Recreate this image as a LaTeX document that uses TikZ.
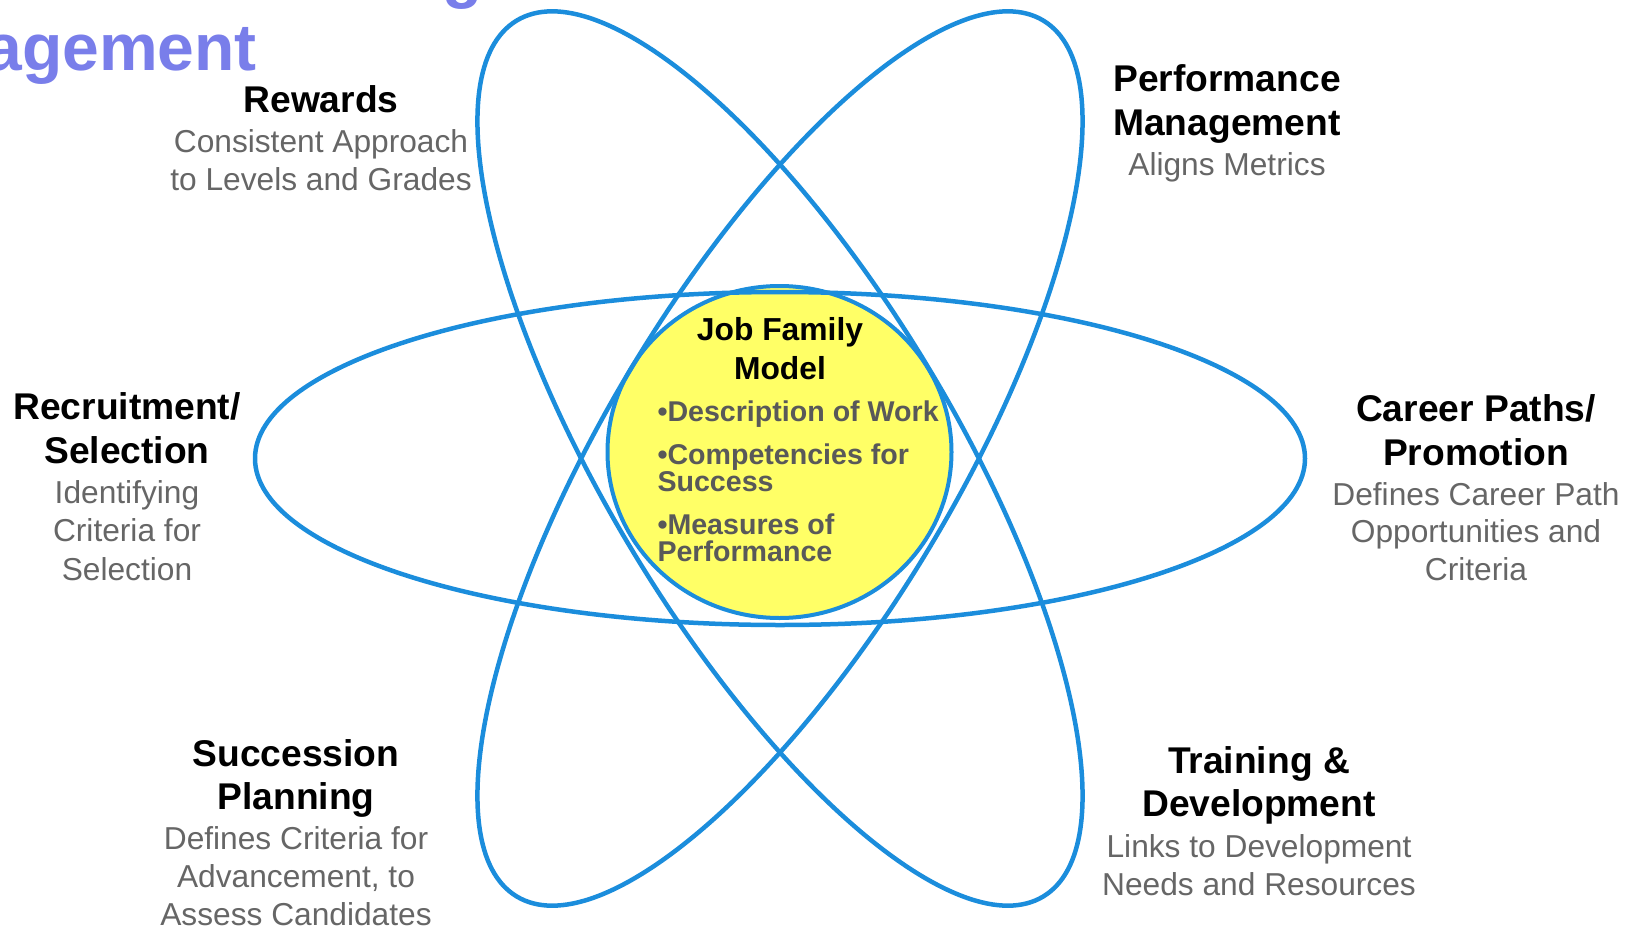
\documentclass[tikz,border=0pt]{standalone}
\usepackage{fontspec}
\setmainfont{Liberation Sans}
\definecolor{orbit}{RGB}{27,141,220}
\definecolor{coreyellow}{RGB}{255,255,102}
\definecolor{descgray}{RGB}{102,102,102}
\definecolor{itemgray}{RGB}{89,89,89}
\definecolor{titleblue}{RGB}{121,126,234}
\begin{document}
\begin{tikzpicture}[x=1pt,y=-1pt,
  orbitline/.style={draw=orbit, line width=4.5pt},
  head/.style={anchor=base, inner sep=0pt, font=\fontsize{37.2}{44}\selectfont\bfseries},
  desc/.style={anchor=base, inner sep=0pt, text=descgray, font=\fontsize{31.7}{38}\selectfont},
  corehead/.style={anchor=base, inner sep=0pt, font=\fontsize{31.8}{36}\selectfont\bfseries},
  coreitem/.style={anchor=base west, inner sep=0pt, text=itemgray, font=\fontsize{28.6}{32}\selectfont\bfseries},
  titletext/.style={inner sep=0pt, text=titleblue, font=\fontsize{66}{76}\selectfont\bfseries}]
\useasboundingbox (0,0) rectangle (1642,929);

% heading fragments
\node[titletext, anchor=base west] (ttl0) at (442,-5) {g};
\node[titletext, anchor=base east] (ttl1) at (257,70.7) {agement};

% centre disc and the three orbits
\coordinate (c) at (780,458.5);
\coordinate (cc) at (779.5,452);
\fill[coreyellow] (cc) ellipse [x radius=172pt, y radius=166pt];
\draw[orbitline] (c) ellipse [x radius=525pt, y radius=166.5pt];
\draw[orbitline, rotate around={121:(c)}] (c) ellipse [x radius=511pt, y radius=174pt];
\draw[orbitline, rotate around={59:(c)}] (c) ellipse [x radius=511pt, y radius=174pt];
\draw[orbitline, line width=4pt] (cc) ellipse [x radius=172pt, y radius=166pt];

% centre text
\node[corehead] (jf1) at (780,340) {Job Family};
\node[corehead] (jf2) at (780,379.3) {Model};
\node[coreitem] (it1) at (657.3,421) {•Description of Work};
\node[coreitem] (it2) at (657.3,464.3) {•Competencies for};
\node[coreitem] (it2b) at (657.3,491.7) {Success};
\node[coreitem] (it3) at (657.3,534.3) {•Measures of};
\node[coreitem] (it3b) at (657.3,561.7) {Performance};

% Rewards
\node[head] (rw) at (321,112.3) {Rewards};
\node[desc] (rw1) at (321,152.3) {Consistent Approach};
\node[desc] (rw2) at (321,190) {to Levels and Grades};

% Performance Management
\node[head] (pm) at (1227,91.7) {Performance};
\node[head] (pm0) at (1227,135) {Management};
\node[desc] (pm1) at (1227,175) {Aligns Metrics};

% Career Paths / Promotion
\node[head] (cp) at (1476,421.7) {Career Paths/};
\node[head] (cp0) at (1476,465) {Promotion};
\node[desc] (cp1) at (1476,505) {Defines Career Path};
\node[desc] (cp2) at (1476,542) {Opportunities and};
\node[desc] (cp3) at (1476,580) {Criteria};

% Recruitment / Selection
\node[head] (rs) at (127,419.3) {Recruitment/};
\node[head] (rs0) at (127,463.3) {Selection};
\node[desc] (rs1) at (127,503.3) {Identifying};
\node[desc] (rs2) at (127,541.7) {Criteria for};
\node[desc] (rs3) at (127,580) {Selection};

% Succession Planning
\node[head] (sp) at (296,766) {Succession};
\node[head] (sp0) at (296,809) {Planning};
\node[desc] (sp1) at (296,849) {Defines Criteria for};
\node[desc] (sp2) at (296,887) {Advancement, to};
\node[desc] (sp3) at (296,925) {Assess Candidates};

% Training & Development
\node[head] (td) at (1259,773.5) {Training \&};
\node[head] (td0) at (1259,816) {Development};
\node[desc] (td1) at (1259,857) {Links to Development};
\node[desc] (td2) at (1259,895.5) {Needs and Resources};
\end{tikzpicture}
\end{document}
